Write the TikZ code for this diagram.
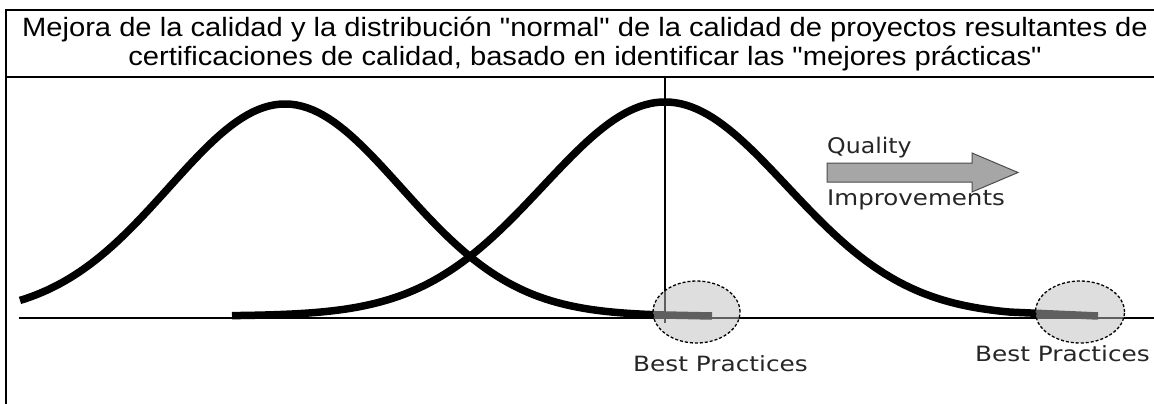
\documentclass[tikz,border=0pt]{standalone}
\usepackage{fontspec}
\setmainfont{Liberation Sans}
\newfontfamily\tfont{Liberation Sans}
\newfontfamily\vfont{DejaVu Sans}
\usetikzlibrary{shapes.geometric}
\begin{document}
\begin{tikzpicture}[x=1pt,y=-1pt,
  frameline/.style={line width=2.6pt,black},
  axisline/.style={line width=1.4pt,black},
  bell/.style={line width=7.5pt,black,line cap=butt,line join=round},
  bpzone/.style={draw=black,dash pattern=on 3pt off 2pt,line width=1.3pt,fill=black!25,fill opacity=0.5,ellipse,inner sep=0pt},
  vlabel/.style={font=\vfont\fontsize{21}{25}\selectfont,text=black!85,inner sep=0pt,anchor=base west},
  qarrow/.style={draw=black!70,line width=1pt,fill=black!35}]
\useasboundingbox (0,0) rectangle (1154,404);
\fill[white] (0,0) rectangle (1154,404);
% frame
\coordinate (tl) at (6,10);
\coordinate (tr) at (1154,10);
\coordinate (bl) at (6,404);
\coordinate (sl) at (6,77);
\coordinate (sr) at (1154,77);
\draw[frameline] (bl) -- (tl) -- (tr);
\draw[frameline] (sl) -- (sr);
\node[inner sep=0pt] (title) at (585,45.5)
 {\scalebox{1.1}[1]{\tfont\fontsize{26.5}{29}\selectfont\begin{tabular}{@{}c@{}}Mejora de la calidad y la distribución "normal" de la calidad de proyectos resultantes de\\
  certificaciones de calidad, basado en identificar las "mejores prácticas"\end{tabular}}};
% axis and vertical
\coordinate (axl) at (19,318);
\coordinate (axr) at (1154,318);
\draw[axisline] (axl) -- (axr);
\coordinate (vt) at (665,77);
\coordinate (vb) at (665,323);
\draw[line width=1.2pt] (vt) -- (vb);
% bell curves
\draw[bell] plot[domain=20:665,samples=120] (\x,{316-212*exp(-0.5*((\x-285)/116)^2)}) -- (712,316);
\draw[bell] plot[domain=232:1010,samples=150] (\x,{316-214*exp(-0.5*((\x-665)/122)^2)}) -- (1098,316);
% best practice zones
\node[bpzone,minimum width=87pt,minimum height=62pt] (bp1) at (696.5,312) {};
\node[bpzone,minimum width=89pt,minimum height=62pt] (bp2) at (1080,312) {};
\node[vlabel] (bpl1) at (633,371.5) {\scalebox{1.18}[1]{Best Practices}};
\node[vlabel] (bpl2) at (975,361.7) {\scalebox{1.18}[1]{Best Practices}};
% quality arrow
\draw[qarrow] (827,163) -- (972,163) -- (972,153) -- (1018,172.5) -- (972,192) -- (972,182) -- (827,182) -- cycle;
\node[vlabel,font=\vfont\fontsize{21.5}{25}\selectfont] (q) at (827,153) {\scalebox{1.1}[1]{Quality}};
\node[vlabel,font=\vfont\fontsize{21.5}{25}\selectfont] (imp) at (827,205) {\scalebox{1.14}[1]{Improvements}};
\end{tikzpicture}
\end{document}
